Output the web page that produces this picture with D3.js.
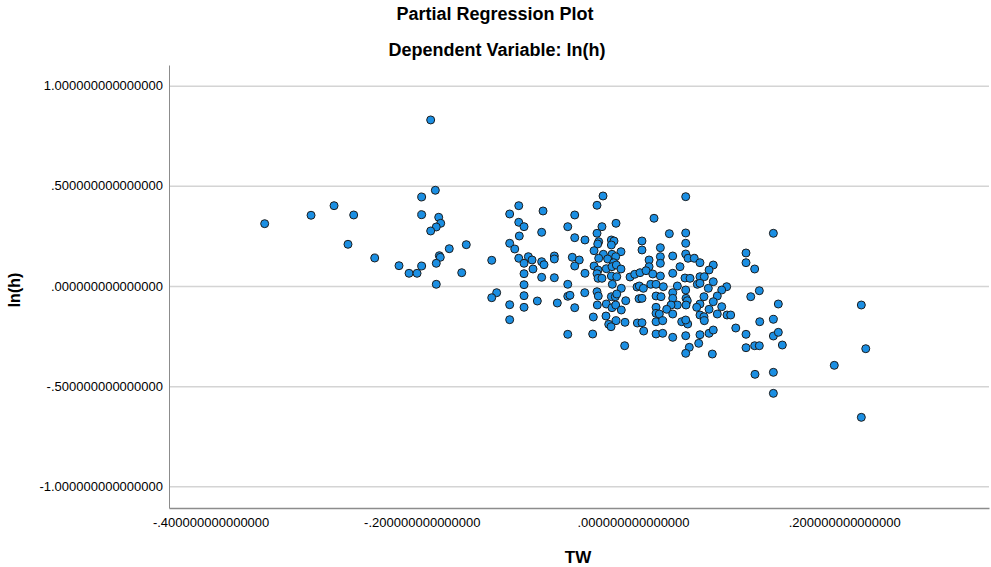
<!DOCTYPE html>
<html>
<head>
<meta charset="utf-8">
<script src="https://cdn.jsdelivr.net/npm/d3@7"></script>
<style>
  body { margin: 0; background: #fff; }
  svg { display: block; font-family: "Liberation Sans", Arial, sans-serif; }
</style>
</head>
<body>
<svg id="chart" width="991" height="567"></svg>
<script>
// partial regression residuals
const tw = [
  -0.1916, -0.1872, -0.2001, -0.2831, -0.3049, -0.2645, -0.2001, -0.3488, -0.1840, -0.1821,
  -0.1863, -0.1916, -0.2699, -0.1740, -0.1579, -0.2446, -0.1834, -0.1825, -0.1863, -0.2001,
  -0.2216, -0.2121, -0.2045, -0.1622, -0.1338, -0.1863, -0.1291, -0.1338,
  -0.0284, -0.0341, -0.1082, -0.1168, -0.0852, -0.0552, -0.1082, -0.1032, -0.0161, -0.0618,
  -0.0294, -0.0341, -0.0865, -0.1077, -0.0552, -0.0455, -0.0325, -0.0205, -0.0180, -0.0334,
  -0.0205, -0.1168, -0.1120, -0.0369, -0.0114, -0.0281, -0.0199, -0.1082, -0.0991, -0.0956,
  -0.0865, -0.0843, -0.0745, -0.0745, -0.0575, -0.0509, -0.0325, -0.0240, -0.0164, -0.0183,
  -0.1032, -0.0947, -0.0552, -0.0369, -0.0331, -0.0253, -0.0199, -0.0158, -0.0114, -0.1032,
  -0.0865, -0.0745, -0.0455, -0.0341, -0.0331, -0.0294, -0.0205, -0.0154, -0.0028, 0.0016,
  0.0066, -0.1032, -0.0618, -0.0196, -0.0111, 0.0038, -0.1032, -0.0906, -0.0717, -0.0618,
  -0.0597, -0.0457, -0.0341, -0.0329, -0.0205, -0.0168, -0.0154, -0.0069, 0.0057, -0.1168,
  -0.1032, -0.0552, -0.0338, -0.0253, -0.0199, -0.0164, -0.0111, -0.0376, -0.0256, -0.0161,
  -0.0230, -0.0208, -0.0076, 0.0041, -0.1168, -0.0618, -0.0382, -0.0079,
  0.0499, 0.0199, 0.0344, 0.0499, 0.0085, 0.0085, 0.0259, 0.0499, 0.0376, 0.0499,
  0.0521, 0.0580, 0.0634, 0.0760, 0.1070, 0.1070, 0.1152, 0.0152, 0.0259, 0.0259,
  0.0152, 0.0123, 0.0445, 0.0187, 0.0259, 0.0376, 0.0492, 0.0540, 0.0634, 0.0720,
  0.0675, 0.0760, 0.0060, 0.0098, 0.0168, 0.0218, 0.0287, 0.0420, 0.0499, 0.0609,
  0.0634, 0.0713, 0.0887, 0.0840, 0.0798, 0.1196, 0.1115, 0.0085, 0.0218, 0.0265,
  0.0376, 0.0376, 0.0502, 0.0514, 0.0672, 0.0634, 0.0760, 0.0502, 0.0420, 0.0360,
  0.0218, 0.0319, 0.0603, 0.0720, 0.0840, 0.0376, 0.0218, 0.0249, 0.0634, 0.0672,
  0.0798, 0.0890, 0.0925, 0.0085, 0.0101, 0.0218, 0.0281, 0.0461, 0.0518, 0.0499,
  0.0675, 0.0973, 0.1200, 0.0218, 0.0281, 0.0376, 0.0499, 0.0634, 0.0720, 0.0760,
  0.1070, 0.0533, 0.0622, 0.1070, 0.1152, 0.1196,
  0.1329, 0.1376, 0.1329, 0.1329, 0.1376, 0.1414, 0.1155, 0.1329, 0.1329, 0.2162,
  0.2204, 0.1906, 0.2162, 0.0499, 0.0751
];
const lnh = [
  0.8288, 0.4778, 0.4443, 0.4009, 0.3530, 0.3545, 0.3560, 0.3110, 0.3430, 0.3130,
  0.2946, 0.2746, 0.2082, 0.1862, 0.2062, 0.1398, 0.1513, 0.1433, 0.1133, 0.0998,
  0.1013, 0.0634, 0.0634, 0.0664, 0.1283, 0.0085, -0.0334, -0.0584,
  0.4493, 0.4029, 0.4009, 0.3595, 0.3744, 0.3545, 0.3180, 0.2961, 0.3130, 0.2961,
  0.2961, 0.2631, 0.2681, 0.2496, 0.2411, 0.2297, 0.2212, 0.2297, 0.2247, 0.2097,
  0.2047, 0.2132, 0.1847, 0.1762, 0.1712, 0.1583, 0.1583, 0.1383, 0.1463, 0.1298,
  0.1213, 0.1063, 0.1498, 0.1348, 0.1433, 0.1298, 0.1383, 0.1348, 0.1463, 0.1163,
  0.1133, 0.0849, 0.0998, 0.0998, 0.0799, 0.0864, 0.0964, 0.1048, 0.0849, 0.0614,
  0.0434, 0.0414, 0.0634, 0.0614, 0.0384, 0.0384, 0.0499, 0.0464, 0.0449, 0.0584,
  0.0664, 0.0065, 0.0085, 0.0085, -0.0115, -0.0050, -0.0484, -0.0749, -0.0849, -0.0514,
  -0.0464, -0.0334, -0.0285, -0.0499, -0.0534, -0.0534, -0.0399, -0.0734, -0.0634, -0.0934,
  -0.1063, -0.1083, -0.0949, -0.0899, -0.1083, -0.0949, -0.1198, -0.1548, -0.1498, -0.1732,
  -0.1912, -0.2032, -0.1812, -0.1847, -0.1682, -0.2411, -0.2396, -0.2981,
  0.4458, 0.3380, 0.2611, 0.2646, 0.2247, 0.1797, 0.1912, 0.2132, 0.1498, 0.1598,
  0.1383, 0.1383, 0.1163, 0.1048, 0.1648, 0.1163, 0.0849, 0.1298, 0.1463, 0.1133,
  0.0964, 0.0764, 0.0964, 0.0599, 0.0499, 0.0634, 0.0399, 0.0384, 0.0464, 0.0799,
  0.0464, 0.0215, 0.0000, -0.0115, 0.0085, 0.0085, -0.0035, 0.0000, -0.0200, 0.0085,
  0.0135, -0.0115, -0.0035, -0.0200, -0.0499, -0.0235, -0.0534, -0.0614, -0.0499, -0.0534,
  -0.0334, -0.0614, -0.0614, -0.0734, -0.0534, -0.0899, -0.0784, -0.0949, -0.0949, -0.0949,
  -0.1063, -0.1163, -0.1063, -0.1163, -0.1033, -0.1398, -0.1363, -0.1398, -0.1448, -0.1533,
  -0.1398, -0.1448, -0.1448, -0.1832, -0.2247, -0.1782, -0.1732, -0.1782, -0.1897, -0.1697,
  -0.1732, -0.2097, -0.1782, -0.2396, -0.2361, -0.2561, -0.2481, -0.2431, -0.2361, -0.2197,
  -0.2411, -0.3060, -0.2861, -0.3080, -0.2981, -0.2981,
  0.2631, -0.0899, -0.1663, -0.2496, -0.2312, -0.2946, -0.4408, -0.4308, -0.5357, -0.0949,
  -0.3130, -0.3959, -0.6555, -0.3360, -0.3395
];
const xTicks = [-0.4, -0.2, 0, 0.2];
const yTicks = [-1, -0.5, 0, 0.5, 1];
const xDomain = [-0.4394, 0.3371];
const yDomain = [-1.108, 1.103];

const width = 991, height = 567;
const margin = { top: 65, right: 2, bottom: 59, left: 169 };
const innerW = width - margin.left - margin.right;
const innerH = height - margin.top - margin.bottom;

const svg = d3.select('#chart');

const x = d3.scaleLinear().domain(xDomain).range([0, innerW]);
const y = d3.scaleLinear().domain(yDomain).range([innerH, 0]);

// SPSS style labels: 15 decimals, no leading zero, plain hyphen
const fmt = v => d3.format('.15f')(v).replace('\u2212', '-').replace(/^(-?)0\./, '$1.');

svg.append('text')
    .attr('x', 495).attr('y', 20)
    .attr('text-anchor', 'middle')
    .style('font-size', '18px').style('font-weight', 'bold')
    .text('Partial Regression Plot');

svg.append('text')
    .attr('x', 497).attr('y', 56)
    .attr('text-anchor', 'middle')
    .style('font-size', '18px').style('font-weight', 'bold')
    .text('Dependent Variable: ln(h)');

const g = svg.append('g')
    .attr('transform', `translate(${margin.left},${margin.top})`);

// horizontal grid lines
g.append('g')
    .call(d3.axisLeft(y).tickValues(yTicks).tickSize(-innerW).tickFormat(''))
    .call(a => a.select('.domain').remove())
    .call(a => a.selectAll('line').attr('stroke', '#d4d4d4').attr('stroke-width', 1.5));

const yAxis = g.append('g')
    .call(d3.axisLeft(y).tickValues(yTicks).tickSize(0).tickPadding(6).tickFormat(fmt));
yAxis.select('.domain').attr('stroke', '#8c8c8c');
yAxis.selectAll('text').style('font-size', '13px').attr('fill', '#000')
    .style('font-family', '"Liberation Sans", Arial, sans-serif');

const xAxis = g.append('g')
    .attr('transform', `translate(0,${innerH})`)
    .call(d3.axisBottom(x).tickValues(xTicks).tickSize(0).tickPadding(10).tickFormat(fmt));
xAxis.select('.domain').attr('stroke', '#8c8c8c').attr('stroke-width', 1.5);
xAxis.selectAll('text').style('font-size', '13px').attr('fill', '#000')
    .style('font-family', '"Liberation Sans", Arial, sans-serif');

// points
g.append('g')
    .selectAll('circle')
    .data(d3.zip(tw, lnh))
    .join('circle')
    .attr('cx', d => x(d[0]))
    .attr('cy', d => y(d[1]))
    .attr('r', 4)
    .attr('fill', '#1b8fe3')
    .attr('stroke', '#1d1d1d')
    .attr('stroke-width', 1);

svg.append('text')
    .attr('transform', 'translate(20,290) rotate(-90)')
    .attr('text-anchor', 'middle')
    .style('font-size', '16px').style('font-weight', 'bold')
    .text('ln(h)');

svg.append('text')
    .attr('x', 578).attr('y', 563)
    .attr('text-anchor', 'middle')
    .style('font-size', '17px').style('font-weight', 'bold')
    .text('TW');
</script>
</body>
</html>
